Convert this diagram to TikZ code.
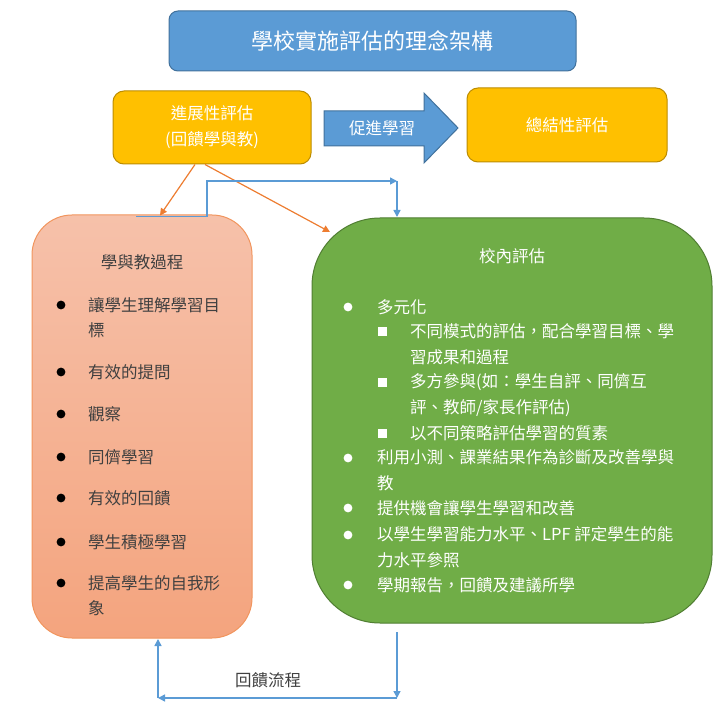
\documentclass[tikz,border=0pt]{standalone}
\usepackage{fontspec}
\setmainfont{Noto Sans CJK TC}
\usetikzlibrary{calc,arrows.meta}

\definecolor{boxblue}{HTML}{5B9BD5}
\definecolor{boxblueline}{HTML}{41719C}
\definecolor{gold}{HTML}{FFC000}
\definecolor{goldline}{HTML}{BC8C00}
\definecolor{leafgreen}{HTML}{70AD47}
\definecolor{leafline}{HTML}{507E32}
\definecolor{salmontop}{HTML}{F6C1AA}
\definecolor{salmonbot}{HTML}{F4A47E}
\definecolor{salmonline}{HTML}{F1955E}
\definecolor{arrorange}{HTML}{ED7D31}
\definecolor{textgray}{HTML}{404040}

\tikzset{
  titlebox/.style={draw=boxblueline,fill=boxblue,rounded corners=9pt,line width=1pt,
    text=white,font=\fontsize{22}{26}\selectfont},
  evalbox/.style={draw=goldline,fill=gold,rounded corners=11pt,line width=1pt,
    text=white,font=\fontsize{16.5}{26}\selectfont,align=center},
  linetext/.style={anchor=west,inner sep=0pt,font=\fontsize{16.5}{26}\selectfont,align=left},
  feedline/.style={draw=boxblue,line width=1.5pt,-{Triangle[width=7pt,length=7pt]}},
  pointer/.style={draw=arrorange,line width=1.2pt,-{Triangle[width=7pt,length=7pt]}},
}

\begin{document}
\begin{tikzpicture}[x=1pt,y=-1pt]
        \useasboundingbox (0,0) rectangle (726,711);
        % header row
        \node[titlebox,minimum width=407pt,minimum height=60pt] (frame) at (372.5,41) {學校實施評估的理念架構};
        \node[evalbox,minimum width=198pt,minimum height=73pt] (progress) at (212,127.5) {進展性評估\\(回饋學與教)};
        \node[evalbox,minimum width=200pt,minimum height=74pt] (summary) at (567,125) {總結性評估};
        \draw[draw=boxblueline,fill=boxblue,line width=1pt] (324,111) -- (424,111) -- (424,93) -- (458,128) -- (424,163) -- (424,146) -- (324,146) -- cycle;
        \node[text=white,font=\fontsize{16.5}{20}\selectfont] (promote) at (382,128.5) {促進學習};
        % two main boxes
        \node[draw=salmonline,top color=salmontop,bottom color=salmonbot,rounded corners=40pt,line width=1pt,
              minimum width=220pt,minimum height=423pt] (learnbox) at (142,426.5) {};
        \node[draw=leafline,fill=leafgreen,rounded corners=68pt,line width=1pt,
              minimum width=400pt,minimum height=405pt] (school) at (512,420.5) {};
        % learning and teaching
        \node[text=textgray,font=\fontsize{16.5}{20}\selectfont] (learntitle) at (142,262) {學與教過程};
        \foreach \y in {305,372,414,457,498,542,583}
          \fill (61,\y) circle (4.4pt);
        \begin{scope}[every node/.style={linetext,text=textgray,font=\fontsize{16.5}{25}\selectfont}]
          \node (l1) at (88,317.5) {讓學生理解學習目\\標};
          \node (l2) at (88,372) {有效的提問};
          \node (l3) at (88,414) {觀察};
          \node (l4) at (88,457) {同儕學習};
          \node (l5) at (88,498) {有效的回饋};
          \node (l6) at (88,542) {學生積極學習};
          \node (l7) at (88,595.5) {提高學生的自我形\\象};
        \end{scope}
        % school assessment
        \node[text=white,font=\fontsize{16.5}{20}\selectfont] (schooltitle) at (512,256) {校內評估};
        \foreach \y in {307,458,508,535,585}
          \fill[white] (348,\y) circle (4.4pt);
        \foreach \y in {332,383,433}
          \fill[white] (377.5,\y-4.5) rectangle ++(9,9);
        \begin{scope}[every node/.style={linetext,text=white}]
          \node (s1) at (377,307) {多元化};
          \node (s2) at (410,344.5) {不同模式的評估，配合學習目標、學\\習成果和過程};
          \node (s3) at (410,395.5) {多方參與(如：學生自評、同儕互\\評、教師/家長作評估)};
          \node (s4) at (410,433) {以不同策略評估學習的質素};
          \node (s5) at (377,470.5) {利用小測、課業結果作為診斷及改善學與\\教};
          \node (s6) at (377,508) {提供機會讓學生學習和改善};
          \node (s7) at (377,547.5) {以學生學習能力水平、LPF 評定學生的能\\力水平參照};
          \node (s8) at (377,585) {學期報告，回饋及建議所學};
        \end{scope}
        % orange pointers
        \coordinate (gcorner) at (330,232);
        \draw[pointer] ([xshift=-17pt]progress.south) -- ([xshift=18pt,yshift=-1pt]learnbox.north);
        \draw[pointer] ([xshift=-7pt]progress.south) -- (gcorner);
        % feedback loop
        \coordinate (bend) at (397,181);
        \coordinate (gtop) at (397,217);
        \draw[feedline] ([xshift=-6pt,yshift=-2pt]learnbox.north) -- ++(71,0) |- (bend);
        \draw[feedline] (bend) -- (gtop);
        \coordinate (gdown) at (397,632);
        \coordinate (corner) at (397,698);
        \coordinate (lcorner) at (158,698);
        \coordinate (lup) at (158,639);
        \draw[feedline] (gdown) -- (corner);
        \draw[feedline] (corner) -- (lcorner);
        \draw[feedline] (lcorner) -- (lup);
        \node[text=textgray,font=\fontsize{16.5}{20}\selectfont] (loop) at (268,680) {回饋流程};
    \end{tikzpicture}
\end{document}
